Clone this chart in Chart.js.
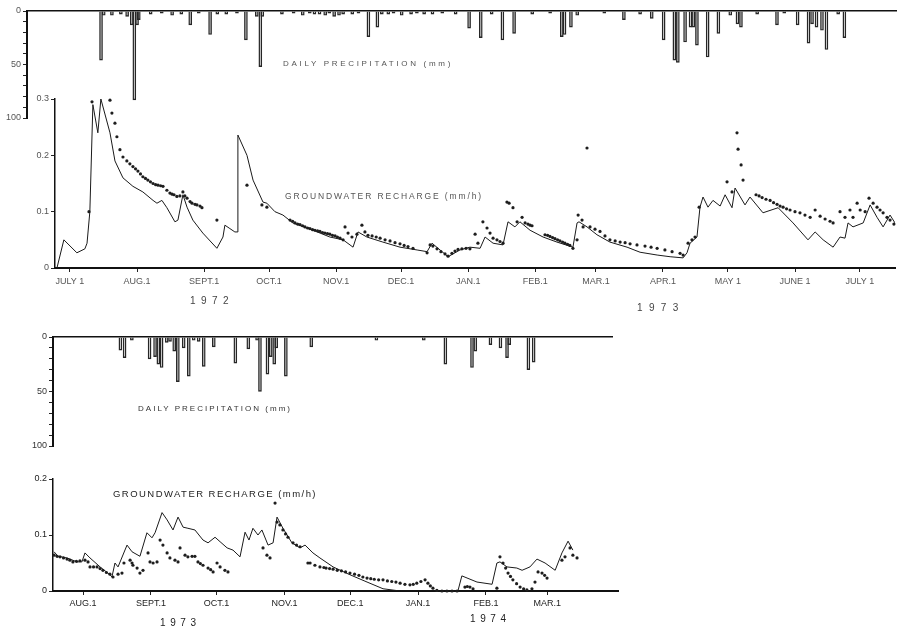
<!DOCTYPE html>
<html><head><meta charset="utf-8">
<script src="https://cdn.jsdelivr.net/npm/chart.js@4"></script>
<style>
body{margin:0;background:#fff;width:900px;height:628px;position:relative;overflow:hidden;font-family:'Liberation Sans',Arial,sans-serif;}
canvas{position:absolute;left:0;}
.t{position:absolute;white-space:nowrap;transform:translateY(-50%);font-family:'Liberation Sans',Arial,sans-serif;}
</style></head><body>
<canvas id="pA" width="900" height="130" style="top:0"></canvas>
<canvas id="pB" width="900" height="300" style="top:0"></canvas>
<canvas id="pC" width="640" height="140" style="top:320px"></canvas>
<canvas id="pD" width="640" height="168" style="top:460px"></canvas>
<script>
// x values: days since 1 July 1972 (top panels) and since 1 Aug 1973 (bottom panels)
const topMonthDays = [0,31,62,92,123,153,184,215,243,274,304,335,365];
const topMonthLabels = ['JULY 1','AUG.1','SEPT.1','OCT.1','NOV.1','DEC.1','JAN.1','FEB.1','MAR.1','APR.1','MAY 1','JUNE 1','JULY 1'];
const botMonthDays = [0,31,61,92,122,153,184,212];
const botMonthLabels = ['AUG.1','SEPT.1','OCT.1','NOV.1','DEC.1','JAN.1','FEB.1','MAR.1'];
const precipTicks = [0,10,20,30,40,50,60,70,80,90,100];
const rechargeTicksTop = [0,0.1,0.2,0.3];
const rechargeTicksBot = [0,0.1,0.2];

// daily precipitation (mm), 1972-73
const precipTop = [[-4.2,46],[-2.8,4],[1.4,4],[6.0,3],[9.2,5],[11.6,13],[12.9,83],[14.3,13],[15.2,8],[21.3,3],[27,2],[32.3,4],[37.0,3],[41.6,13],[46,2],[51.8,22],[55.5,3],[60.1,3],[65.6,2],[70.2,27],[75.8,5],[77.6,52],[78.6,5],[88.7,3],[94.7,2],[99.4,4],[103,2],[105.4,3],[108,3],[110.9,4],[113,2],[115.5,5],[118,4],[120.1,3],[124.8,3],[128,2],[133.1,24],[137.7,15],[140,3],[143.3,3],[146,2],[150.2,4],[155,3],[158,2],[161.7,3],[166,3],[171.0,2],[177.9,3],[184.8,16],[190.8,25],[196.4,3],[201.9,27],[207.9,21],[217.2,3],[226.4,2],[232.4,24],[233.8,22],[237.1,15],[240.3,4],[254.2,2],[264.3,8],[272.6,3],[278.6,7],[284.7,27],[290.2,46],[292.0,48],[295.7,29],[298.5,15],[299.9,15],[301.8,32],[307.3,43],[312.8,21],[318.9,4],[322.6,12],[324.4,15],[332.7,3],[342.9,13],[346.6,2],[353.5,13],[359.1,30],[360.9,12],[363.2,15],[366.0,18],[368.3,36],[374.3,3],[377.5,25]];

// groundwater recharge (mm/h), 1972-73: computed (line) and observed (dots)
const computedTop = [[-6.0,0],[-2.8,0.05],[3.2,0.027],[6.9,0.034],[7.9,0.044],[9.2,0.1],[10.6,0.29],[12.9,0.24],[14.3,0.30],[18.5,0.24],[20.8,0.19],[24.5,0.16],[29.1,0.145],[33.7,0.135],[38.4,0.12],[40.2,0.115],[42.5,0.12],[44.8,0.107],[48.5,0.082],[49.9,0.085],[52.2,0.13],[54.1,0.108],[56.8,0.085],[61.4,0.062],[67.9,0.035],[70.7,0.055],[71.6,0.076],[73.9,0.07],[76.2,0.064],[77.2,0.064],[77.6,0.236],[81.8,0.2],[84.6,0.156],[89.2,0.117],[91.0,0.115],[94.7,0.1],[98.4,0.094],[103.0,0.08],[112.3,0.067],[120.1,0.055],[126.2,0.05],[130.8,0.037],[133.1,0.064],[137.2,0.055],[144.6,0.046],[152.5,0.037],[160.4,0.032],[165.0,0.029],[167.3,0.044],[171.0,0.032],[174.7,0.02],[180.2,0.032],[184.8,0.037],[189.5,0.035],[191.8,0.055],[195.5,0.044],[200.1,0.041],[202.4,0.082],[205.6,0.073],[207.9,0.082],[212.6,0.067],[218.6,0.055],[225.0,0.046],[232.4,0.037],[234.3,0.08],[235.2,0.082],[238.9,0.073],[243.5,0.059],[249.5,0.046],[257.4,0.037],[263.4,0.028],[271.3,0.023],[277.3,0.02],[283.3,0.018],[285.1,0.027],[286.5,0.044],[289.7,0.055],[291.1,0.108],[292.5,0.126],[294.8,0.108],[297.1,0.12],[300.4,0.11],[302.7,0.13],[305.9,0.107],[307.3,0.142],[311.9,0.112],[314.2,0.126],[320.2,0.098],[327.2,0.107],[334.1,0.08],[341.0,0.05],[344.3,0.064],[348.0,0.05],[352.6,0.037],[355.8,0.055],[358.1,0.053],[359.5,0.08],[361.8,0.073],[366.5,0.08],[369.7,0.112],[372.9,0.09],[375.7,0.073],[378.9,0.094],[381.2,0.08]];
const observedTop = [[8.8,0.1],[10.2,0.295],[11.6,0.467],[13.9,0.467],[15.2,0.43],[16.6,0.383],[17.6,0.336],[18.5,0.298],[19.4,0.275],[20.8,0.257],[21.7,0.233],[23.1,0.21],[24.5,0.197],[26.3,0.19],[27.7,0.185],[29.1,0.18],[30.3,0.176],[31.4,0.172],[32.6,0.167],[33.7,0.162],[34.9,0.159],[36.0,0.156],[37.2,0.153],[38.4,0.15],[39.6,0.148],[40.7,0.147],[41.9,0.146],[43.0,0.145],[44.8,0.138],[46.2,0.133],[47.2,0.131],[48.1,0.13],[49.4,0.127],[50.8,0.128],[52.2,0.135],[53.1,0.128],[54.1,0.124],[55.5,0.118],[56.4,0.115],[57.8,0.113],[58.7,0.112],[60.1,0.11],[61.0,0.107],[67.9,0.085],[81.8,0.147],[88.7,0.112],[91.0,0.108],[101.7,0.085],[102.9,0.083],[104.0,0.08],[105.2,0.078],[106.3,0.077],[107.5,0.075],[108.6,0.073],[109.8,0.071],[110.9,0.07],[112.1,0.068],[113.2,0.067],[114.4,0.066],[115.5,0.065],[116.7,0.063],[117.8,0.062],[119.0,0.061],[120.1,0.06],[121.3,0.058],[122.5,0.057],[123.6,0.055],[124.8,0.053],[126.2,0.05],[127.1,0.073],[128.5,0.062],[130.3,0.055],[132.6,0.06],[134.9,0.076],[136.3,0.064],[137.7,0.058],[139.6,0.057],[141.5,0.055],[143.3,0.053],[145.6,0.05],[147.9,0.048],[150.2,0.045],[152.5,0.043],[154.4,0.04],[156.2,0.038],[158.5,0.035],[165.0,0.027],[166.4,0.041],[167.7,0.039],[169.6,0.034],[171.4,0.029],[173.3,0.025],[174.7,0.021],[176.5,0.026],[177.9,0.03],[179.3,0.033],[181.1,0.034],[183.0,0.035],[184.8,0.034],[187.2,0.06],[188.5,0.044],[190.8,0.082],[192.7,0.071],[194.1,0.062],[195.5,0.053],[197.3,0.05],[198.7,0.047],[200.1,0.044],[201.9,0.117],[202.9,0.115],[204.7,0.107],[206.6,0.082],[208.9,0.09],[210.3,0.08],[211.6,0.078],[212.6,0.076],[213.5,0.075],[219.5,0.059],[220.7,0.058],[221.8,0.056],[223.0,0.054],[224.1,0.052],[225.3,0.05],[226.4,0.048],[227.6,0.046],[228.7,0.044],[229.9,0.042],[231.0,0.04],[232.4,0.035],[234.3,0.05],[234.8,0.094],[236.6,0.085],[237.1,0.073],[238.9,0.213],[240.3,0.073],[242.6,0.069],[244.9,0.065],[247.2,0.057],[249.5,0.05],[251.9,0.048],[254.2,0.046],[256.5,0.045],[258.8,0.043],[262.0,0.041],[265.7,0.039],[268.5,0.037],[271.3,0.035],[274.9,0.032],[278.2,0.029],[281.9,0.026],[283.3,0.023],[285.6,0.044],[287.4,0.05],[288.8,0.055],[290.7,0.108],[303.6,0.153],[305.9,0.135],[308.2,0.24],[308.7,0.211],[310.1,0.183],[311.0,0.156],[317.0,0.13],[318.4,0.128],[319.8,0.125],[321.6,0.122],[323.5,0.12],[325.1,0.116],[326.7,0.113],[328.1,0.11],[329.5,0.108],[331.1,0.105],[332.7,0.103],[335.0,0.1],[337.3,0.098],[339.6,0.094],[342.0,0.09],[344.3,0.103],[346.6,0.092],[348.9,0.087],[351.2,0.083],[352.6,0.08],[355.8,0.1],[358.1,0.09],[360.4,0.103],[361.8,0.09],[363.7,0.115],[365.1,0.103],[367.4,0.1],[369.2,0.124],[371.1,0.115],[372.9,0.108],[374.3,0.103],[375.7,0.098],[377.5,0.09],[378.9,0.085],[380.7,0.078]];

// daily precipitation (mm), 1973-74
const precipBot = [[-2.3,12],[0,19],[4,3],[13.7,20],[16.7,18],[18.5,25],[20.3,28],[23.1,5],[24.9,4],[27.2,13],[29.2,41],[32.4,10],[35.2,36],[37.9,3],[40.6,4],[43.4,27],[48.9,9],[60.7,24],[67.8,11],[72.6,3],[74.2,50],[78.3,34],[80.1,18],[82.0,25],[83.1,10],[88.4,36],[102.3,9],[138,3],[164,3],[175.8,25],[190.4,28],[192.2,13],[200.5,7],[206,10],[209.6,19],[210.8,7],[221.3,30],[224.2,23]];

// groundwater recharge (mm/h), 1973-74
const computedBot = [[-13.2,0.07],[-11.4,0.062],[-7.3,0.059],[-2.7,0.052],[-0.5,0.052],[0.9,0.068],[3.2,0.059],[7.8,0.043],[12.3,0.029],[13.2,0.025],[14.6,0.05],[16.0,0.043],[20.1,0.082],[22.4,0.07],[26.0,0.062],[29.2,0.104],[31.5,0.095],[32.9,0.104],[36.1,0.14],[38.4,0.127],[41.1,0.109],[43.4,0.132],[45.7,0.114],[47.9,0.112],[51.1,0.109],[54.8,0.091],[57.1,0.086],[60.3,0.096],[62.6,0.088],[65.8,0.077],[68.5,0.073],[71.7,0.061],[74.0,0.105],[75.8,0.091],[77.6,0.112],[79.9,0.1],[81.7,0.109],[84.5,0.082],[86.8,0.086],[88.6,0.132],[91.3,0.112],[95.4,0.086],[99.1,0.077],[101.4,0.082],[105.0,0.068],[108.2,0.059],[114.2,0.043],[121.9,0.029],[129.7,0.016],[137.0,0.004],[144.8,0],[171.2,0],[173.0,0.027],[179.9,0.016],[186.8,0.012],[189.0,0.05],[190.4,0.052],[193.6,0.043],[198.1,0.041],[200.5,0.037],[204.1,0.043],[207.3,0.057],[211.0,0.05],[215.6,0.037],[218.7,0.068],[221.5,0.089],[223.7,0.073]];
const observedBot = [[-13.2,0.064],[-11.8,0.062],[-10.5,0.061],[-8.9,0.059],[-7.3,0.057],[-6.0,0.055],[-4.6,0.052],[-3.0,0.053],[-1.4,0.054],[0.9,0.055],[2.3,0.052],[3.2,0.043],[4.8,0.043],[6.4,0.043],[7.8,0.04],[9.1,0.037],[10.7,0.033],[12.3,0.03],[13.7,0.025],[16.0,0.03],[17.8,0.032],[18.7,0.05],[21.5,0.055],[22.4,0.05],[22.8,0.046],[24.7,0.041],[26.0,0.032],[27.4,0.037],[29.7,0.068],[30.6,0.052],[32.0,0.05],[33.8,0.052],[35.2,0.091],[36.5,0.082],[38.4,0.068],[39.7,0.059],[42.0,0.055],[43.4,0.052],[44.3,0.077],[46.6,0.064],[47.9,0.061],[49.8,0.062],[51.1,0.062],[52.5,0.052],[53.6,0.049],[54.8,0.046],[57.1,0.041],[58.3,0.038],[59.4,0.034],[61.2,0.05],[62.6,0.043],[64.8,0.037],[66.2,0.034],[82.2,0.077],[84.0,0.064],[85.4,0.059],[87.7,0.157],[88.6,0.123],[89.9,0.118],[91.3,0.109],[92.5,0.102],[93.6,0.096],[95.9,0.086],[97.5,0.082],[99.1,0.079],[102.7,0.05],[103.7,0.05],[105.9,0.046],[108.2,0.043],[110.0,0.042],[111.0,0.041],[112.6,0.04],[114.2,0.039],[116.1,0.037],[118.0,0.036],[119.9,0.034],[121.9,0.032],[124.0,0.03],[126.0,0.028],[127.8,0.025],[129.7,0.023],[131.4,0.022],[133.0,0.021],[135.0,0.02],[137.0,0.02],[139.0,0.018],[141.0,0.017],[142.9,0.016],[144.8,0.014],[147.0,0.012],[149.3,0.011],[150.8,0.012],[152.4,0.014],[154.3,0.017],[156.2,0.02],[157.5,0.014],[158.6,0.009],[159.8,0.005],[161.6,0.001],[163.9,0],[166.2,0],[168.5,0],[170.8,0],[174.4,0.007],[175.5,0.008],[176.7,0.007],[178.1,0.004],[189.0,0.005],[190.4,0.061],[191.8,0.05],[193.0,0.041],[194.1,0.032],[195.2,0.026],[196.3,0.02],[198.0,0.013],[199.6,0.007],[201.2,0.004],[202.7,0.002],[205.0,0.004],[206.4,0.016],[207.8,0.034],[209.6,0.032],[210.8,0.028],[211.9,0.023],[218.7,0.055],[220.1,0.061],[222.4,0.077],[223.7,0.064],[225.6,0.059]];

Chart.defaults.font.family = "'Liberation Sans', Arial, sans-serif";
Chart.defaults.font.size = 9;
Chart.defaults.color = '#444';

const pts = arr => arr.map(([x, y]) => ({x, y}));
const base = {responsive:false, animation:false, devicePixelRatio:1, events:[],
  plugins:{legend:{display:false}, tooltip:{enabled:false}}};

function precipChart(id, data, xmin, xmax, pad, yW, labelColor){
  return new Chart(document.getElementById(id), {
    type:'bar',
    data:{datasets:[{data:pts(data), barThickness:3, borderWidth:0.8, borderColor:'#262626',
      backgroundColor:'rgba(255,255,255,0)', borderSkipped:'start'}]},
    options:Object.assign({}, base, {
      layout:{padding:pad},
      scales:{
        x:{type:'linear', position:'top', min:xmin, max:xmax,
           ticks:{display:false}, grid:{display:false},
           border:{display:true, color:'#111', width:1.5},
           afterFit:s=>{s.height=0;}},
        y:{type:'linear', reverse:true, min:0, max:100,
           afterBuildTicks:s=>{s.ticks = precipTicks.map(v=>({value:v}));},
           ticks:{autoSkip:false, padding:2, color:labelColor, font:{size:9},
             callback:v=> (v%50===0 ? String(v) : '')},
           grid:{drawOnChartArea:false, tickLength:4, color:'#222', lineWidth:1},
           border:{display:true, color:'#111', width:2},
           afterFit:s=>{s.width=yW;}}
      }
    })
  });
}

function rechargeChart(id, comp, obs, xmin, xmax, pad, yW, xH, yTicks, yMax, mDays, mLabels, labelColor, tickPad){
  return new Chart(document.getElementById(id), {
    type:'line',
    data:{datasets:[
      {data:pts(comp), borderColor:'#1a1a1a', borderWidth:1, pointRadius:0, tension:0, fill:false},
      {data:pts(obs), showLine:false, pointRadius:1.6, pointBackgroundColor:'#1e1e1e', pointBorderWidth:0, clip:false}
    ]},
    options:Object.assign({}, base, {
      layout:{padding:pad},
      scales:{
        x:{type:'linear', min:xmin, max:xmax,
           afterBuildTicks:s=>{s.ticks = mDays.map(v=>({value:v}));},
           ticks:{autoSkip:false, maxRotation:0, minRotation:0, padding:tickPad, color:labelColor, font:{size:9},
             callback:v=>{const i = mDays.indexOf(v); return i>=0 ? mLabels[i] : '';}},
           grid:{drawOnChartArea:false, tickLength:4, color:'#222'},
           border:{display:true, color:'#111', width:2},
           afterFit:s=>{s.height=xH;}},
        y:{type:'linear', min:0, max:yMax,
           afterBuildTicks:s=>{s.ticks = yTicks.map(v=>({value:v}));},
           ticks:{autoSkip:false, padding:2, color:labelColor, font:{size:9},
             callback:v=> (v===0 ? '0' : v.toFixed(1))},
           grid:{drawOnChartArea:false, tickLength:4, color:'#222'},
           border:{display:true, color:'#111', width:1.5},
           afterFit:s=>{s.width=yW;}}
      }
    })
  });
}

precipChart('pA', precipTop, -19.9, 381.7, {top:11, bottom:12, left:0, right:4}, 27, '#555');
rechargeChart('pB', computedTop, observedTop, -6.9, 381.2, {top:99, bottom:0, left:0, right:5}, 55, 32, rechargeTicksTop, 0.3, topMonthDays, topMonthLabels, '#555', 4);
precipChart('pC', precipBot, -13.7, 241.6, {top:17, bottom:14, left:0, right:28}, 53, '#333');
rechargeChart('pD', computedBot, observedBot, -13.7, 244.3, {top:19, bottom:0, left:0, right:22}, 53, 37, rechargeTicksBot, 0.2, botMonthDays, botMonthLabels, '#222', 3);

function place(text, left, cy, width, size, color){
  const d = document.createElement('div');
  d.className = 't'; d.textContent = text;
  d.style.left = left+'px'; d.style.top = cy+'px';
  d.style.fontSize = size+'px'; d.style.color = color;
  document.body.appendChild(d);
  const w = d.getBoundingClientRect().width;
  d.style.letterSpacing = ((width - w) / text.length) + 'px';
}
place('DAILY PRECIPITATION (mm)', 283, 63, 170, 8, '#555');
place('GROUNDWATER RECHARGE (mm/h)', 285, 196, 198, 8.5, '#555');
place('DAILY PRECIPITATION (mm)', 138, 408, 154, 8, '#333');
place('GROUNDWATER RECHARGE (mm/h)', 113, 493, 204, 9.5, '#222');
place('1 9 7 2', 190, 300, 40, 10, '#444');
place('1 9 7 3', 637, 307, 43, 10, '#444');
place('1 9 7 3', 160, 622, 37, 10, '#222');
place('1 9 7 4', 470, 618, 37, 10, '#222');
</script>
</body></html>
